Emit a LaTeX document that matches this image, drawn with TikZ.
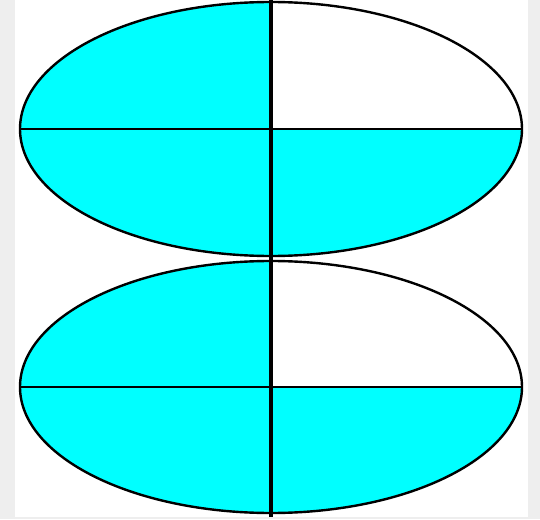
\documentclass[tikz,border=0pt]{standalone}
\usepackage{xcolor}
\usepackage{tikz}
\usetikzlibrary{positioning,calc}

\definecolor{pagegray}{HTML}{EEEEEE}
\definecolor{aqua}{RGB}{0,255,255}

\begin{document}
\begin{tikzpicture}[x=0.75pt,y=0.75pt,
  rim/.style={draw=black,line width=1.8pt},
  split/.style={draw=black,line width=1.7pt},
  spine/.style={draw=black,line width=2.8pt}]
  \useasboundingbox (0,0) rectangle (540,519);
  \fill[pagegray] (0,0) rectangle (540,519);
  \fill[white] (15,2) rectangle (528,519);
  % two ellipses, top right quarter left white
  \foreach \cy/\ry in {390/127,132/126} {
    \fill[aqua] (271,\cy) ellipse [x radius=251,y radius=\ry];
    \begin{scope}
      \clip (271,\cy) rectangle (530,\cy+\ry+3);
      \fill[white] (271,\cy) ellipse [x radius=251,y radius=\ry];
    \end{scope}
    \draw[rim] (271,\cy) ellipse [x radius=251,y radius=\ry];
    \draw[split] (20,\cy) -- (522,\cy);
  }
  \draw[spine] (271,519) -- (271,2);
\end{tikzpicture}
\end{document}
